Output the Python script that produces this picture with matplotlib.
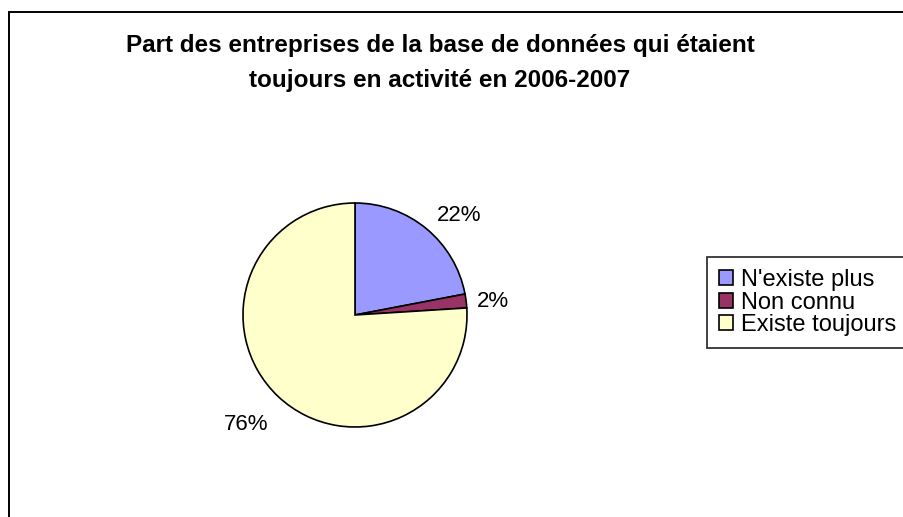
import matplotlib
matplotlib.use('Agg')
import matplotlib.pyplot as plt
from matplotlib.patches import Rectangle

# data
categories = ["N'existe plus", "Non connu", "Existe toujours"]
shares = [22, 2, 76]
colors = ['#9999FF', '#993366', '#FFFFCC']
label_pos = [(0.93, 0.89), (1.23, 0.12), (-0.97, -0.98)]   # where the % labels sit, in data units

title = "Part des entreprises de la base de données qui étaient\ntoujours en activité en 2006-2007"

plt.rcParams['font.family'] = ['Liberation Sans', 'DejaVu Sans']

W, H = 904, 517
fig = plt.figure(figsize=(W / 100, H / 100), dpi=100)

# outer chart frame, cut at right and bottom like the screenshot
fig.patches.append(Rectangle((8.5 / W, -0.1), 1.2, (H - 11.5) / H + 0.1,
                             transform=fig.transFigure, fill=False,
                             edgecolor='black', linewidth=1.4))

fig.text(440 / W, 1 - 63 / H, title, ha='center', va='center',
         fontsize=17.5, fontweight='bold', linespacing=1.62)

# pie axes: centre (355, 315) px, radius 112 px
cx, cy, r = 355, 315, 112
ax = fig.add_axes([(cx - r) / W, (H - cy - r) / H, 2 * r / W, 2 * r / H])
wedges, texts, autotexts = ax.pie(shares, colors=colors, startangle=90, counterclock=False,
                                  autopct='%1.0f%%', radius=1,
                                  wedgeprops=dict(edgecolor='black', linewidth=1.2),
                                  textprops=dict(fontsize=16))
for t, (x, y) in zip(autotexts, label_pos):
    t.set_position((x, y))
    t.set_ha('center')
    t.set_va('center')
ax.set_xlim(-1, 1)
ax.set_ylim(-1, 1)
ax.set_aspect('equal')
ax.axis('off')

leg = fig.legend(wedges, categories, loc='upper left',
                 bbox_to_anchor=(707 / W, 1 - 257 / H),
                 fontsize=17, frameon=True, fancybox=False,
                 edgecolor='black', handlelength=0.6, handleheight=0.6,
                 handletextpad=0.35, labelspacing=0.03, borderpad=0.5,
                 borderaxespad=0)
leg.get_frame().set_linewidth(1.3)

fig.savefig('out.png', dpi=100)
